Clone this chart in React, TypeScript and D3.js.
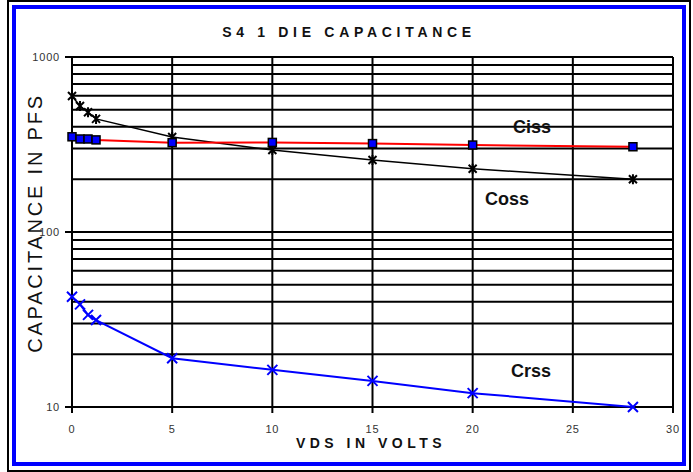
import React, { useEffect, useRef } from "react";
import * as d3 from "d3";

// VDS (volts)
const vds = [0, 0.4, 0.8, 1.2, 5, 10, 15, 20, 28];
// capacitances in pF
const ciss = [350, 340, 340, 336, 324, 325, 320, 314, 307];
const coss = [598, 525, 483, 443, 349, 294, 258, 230, 200];
const crss = [42.7, 38.6, 33.6, 31.4, 19.0, 16.3, 14.1, 12.0, 10.0];

const xTicks = [0, 5, 10, 15, 20, 25, 30];
const yMajor = [10, 100, 1000];

const App = () => {
  const ref = useRef<SVGSVGElement>(null);

  useEffect(() => {
    const svg = d3.select(ref.current);
    svg.selectAll("*").remove();

    const x = d3.scaleLinear().domain([0, 30]).range([72, 673]);
    const y = d3.scaleLog().domain([10, 1000]).range([407, 57]);

    // frame
    svg.append("rect").attr("x", 8).attr("y", 1).attr("width", 682).attr("height", 470)
      .attr("fill", "white").attr("stroke", "black").attr("stroke-width", 2);
    svg.append("rect").attr("x", 14).attr("y", 7).attr("width", 670).attr("height", 457)
      .attr("fill", "none").attr("stroke", "#0000ff").attr("stroke-width", 4);

    // horizontal grid (every log tick)
    const gridY: number[] = [];
    for (let d = 10; d < 1000; d *= 10) for (let k = 1; k <= 9; k++) gridY.push(d * k);
    gridY.push(1000);
    svg.append("g").selectAll("line").data(gridY).enter().append("line")
      .attr("x1", x(0)).attr("x2", x(30))
      .attr("y1", d => y(d)).attr("y2", d => y(d))
      .attr("stroke", "black").attr("stroke-width", 2);

    // vertical grid
    svg.append("g").selectAll("line").data(xTicks).enter().append("line")
      .attr("x1", d => x(d)).attr("x2", d => x(d))
      .attr("y1", y(1000)).attr("y2", y(10) + 6)
      .attr("stroke", "black").attr("stroke-width", 2);

    // y ticks
    svg.append("g").selectAll("line").data(yMajor).enter().append("line")
      .attr("x1", x(0) - 7).attr("x2", x(0))
      .attr("y1", d => y(d)).attr("y2", d => y(d))
      .attr("stroke", "black").attr("stroke-width", 2);

    const font = "'Liberation Sans', Arial, sans-serif";
    svg.append("g").selectAll("text").data(yMajor).enter().append("text")
      .attr("x", x(0) - 12).attr("y", d => y(d) + 4)
      .attr("text-anchor", "end").attr("font-family", font).attr("font-size", 11)
      .attr("letter-spacing", 0.8).attr("fill", "#333").text(d => d);

    svg.append("g").selectAll("text").data(xTicks).enter().append("text")
      .attr("x", d => x(d)).attr("y", 433)
      .attr("text-anchor", "middle").attr("font-family", font).attr("font-size", 11)
      .attr("letter-spacing", 0.8).attr("fill", "#333").text(d => d);

    // titles
    svg.append("text").attr("x", 349).attr("y", 37).attr("text-anchor", "middle")
      .attr("font-family", font).attr("font-weight", "bold").attr("font-size", 14)
      .attr("letter-spacing", 4.7).attr("fill", "#111").text("S4 1 DIE CAPACITANCE");
    svg.append("text").attr("x", 371).attr("y", 448).attr("text-anchor", "middle")
      .attr("font-family", font).attr("font-weight", "bold").attr("font-size", 14)
      .attr("letter-spacing", 4.5).attr("fill", "#111").text("VDS IN VOLTS");
    svg.append("text").attr("transform", "translate(42,223) rotate(-90)")
      .attr("text-anchor", "middle").attr("font-family", font).attr("font-size", 20)
      .attr("letter-spacing", 2.8).attr("fill", "#111").text("CAPACITANCE IN PFS");

    const line = (vals: number[]) =>
      d3.line<number>().x((d, i) => x(vds[i])).y(d => y(d))(vals);

    // Coss
    svg.append("path").attr("d", line(coss)).attr("fill", "none")
      .attr("stroke", "black").attr("stroke-width", 1.5);
    svg.append("g").selectAll("path").data(coss).enter().append("path")
      .attr("transform", (d, i) => `translate(${x(vds[i])},${y(d)})`)
      .attr("d", "M-4,-4L4,4M-4,4L4,-4M0,-5L0,5")
      .attr("stroke", "black").attr("stroke-width", 2);

    // Ciss
    svg.append("path").attr("d", line(ciss)).attr("fill", "none")
      .attr("stroke", "#ff0000").attr("stroke-width", 2);
    svg.append("g").selectAll("rect").data(ciss).enter().append("rect")
      .attr("x", (d, i) => x(vds[i]) - 4).attr("y", d => y(d) - 4)
      .attr("width", 8).attr("height", 8)
      .attr("fill", "#0000ff").attr("stroke", "black").attr("stroke-width", 1.5);

    // Crss
    svg.append("path").attr("d", line(crss)).attr("fill", "none")
      .attr("stroke", "#0000ff").attr("stroke-width", 2);
    svg.append("g").selectAll("path").data(crss).enter().append("path")
      .attr("transform", (d, i) => `translate(${x(vds[i])},${y(d)})`)
      .attr("d", "M-5,-5L5,5M-5,5L5,-5")
      .attr("stroke", "#0000ff").attr("stroke-width", 2);

    // series labels
    const labels = [
      { t: "Ciss", x: 513, y: 133 },
      { t: "Coss", x: 485, y: 205 },
      { t: "Crss", x: 511, y: 377 },
    ];
    svg.append("g").selectAll("text").data(labels).enter().append("text")
      .attr("x", d => d.x).attr("y", d => d.y)
      .attr("font-family", font).attr("font-weight", "bold").attr("font-size", 18)
      .attr("fill", "#111").text(d => d.t);
  }, []);

  return (
    <svg ref={ref} width={693} height={472}
      style={{ position: "absolute", left: 0, top: 0, background: "white" }} />
  );
};

export default App;
